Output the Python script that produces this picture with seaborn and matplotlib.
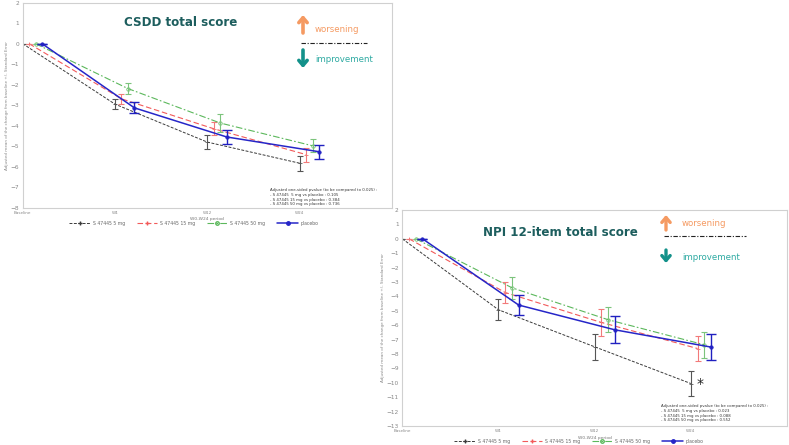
import matplotlib
matplotlib.use("Agg")
import matplotlib.pyplot as plt
import seaborn as sns
import pandas as pd
from matplotlib.lines import Line2D

visits = ["Baseline", "W4", "W12", "W24"]
groups = ["S 47445 5 mg", "S 47445 15 mg", "S 47445 50 mg", "placebo"]

# CSDD total score: adjusted mean change and standard error
csdd_5mg = [0, -2.95, -4.80, -5.83]
csdd_5mg_se = [0, 0.25, 0.34, 0.36]
csdd_15mg = [0, -2.69, -4.15, -5.41]
csdd_15mg_se = [0, 0.26, 0.32, 0.34]
csdd_50mg = [0, -2.19, -3.87, -4.98]
csdd_50mg_se = [0, 0.28, 0.43, 0.32]
csdd_placebo = [0, -3.13, -4.55, -5.27]
csdd_placebo_se = [0, 0.27, 0.32, 0.33]
csdd_pvalues = ["0.105", "0.384", "0.736"]

# NPI 12-item total score
npi_5mg = [0, -4.93, -7.50, -10.05]
npi_5mg_se = [0, 0.74, 0.90, 0.90]
npi_15mg = [0, -3.73, -5.81, -7.62]
npi_15mg_se = [0, 0.73, 0.93, 0.90]
npi_50mg = [0, -3.40, -5.62, -7.36]
npi_50mg_se = [0, 0.75, 0.88, 0.90]
npi_placebo = [0, -4.60, -6.32, -7.52]
npi_placebo_se = [0, 0.72, 0.93, 0.90]
npi_pvalues = ["0.023", "0.088", "0.552"]

sns.set_style("white")
plt.rcParams["font.family"] = ["DejaVu Sans"]
plt.rcParams["axes.unicode_minus"] = True

W, H = 789, 445
fig = plt.figure(figsize=(W / 100, H / 100), dpi=100)


def fx(x):
    return x / W


def fy(y):
    return 1 - y / H


line_col = ["#3a3a3a", "#f25a5a", "#5cb85c", "#2626c8"]
bar_col = ["#555555", "#f27a7a", "#7cc47c", "#2020c0"]
line_ls = [(0, (3, 1.5)), (0, (5, 2.5)), (0, (6, 2, 1.5, 2)), "-"]
line_lw = [0.7, 0.8, 0.8, 1.1]
markers = ["+", "+", "o", "o"]
caps = [2.2, 2.2, 2.2, 3.6]
offsets = [0, 0.07, 0.14, 0.21]

TITLE_C = "#1d5e5e"
ORANGE = "#f59a62"
TEAL = "#13918a"
TEAL_TXT = "#2eaaa2"


def panel(rect, means, ses, ymin, legend_xy):
    ax = fig.add_axes(rect)
    for i, (g, m, s) in enumerate(zip(groups, means, ses)):
        xs = [k + offsets[i] for k in range(len(visits))]
        df = pd.DataFrame({"x": xs, "y": m})
        sns.lineplot(data=df, x="x", y="y", ax=ax, color=line_col[i],
                     linestyle=line_ls[i], lw=line_lw[i], marker=markers[i],
                     ms=2.5 if markers[i] == "o" else 3,
                     mfc="none" if i == 2 else line_col[i],
                     mec=line_col[i], mew=0.5, sort=False, legend=False)
        ax.errorbar(xs, m, yerr=s, fmt="none", ecolor=bar_col[i],
                    elinewidth=0.8 if i < 3 else 1.0, capsize=caps[i],
                    capthick=0.8 if i < 3 else 1.0)
    ax.set_xlim(0, 4)
    ax.set_ylim(ymin, 2)
    ax.set_yticks(range(ymin, 3))
    ax.set_xticks(range(len(visits)))
    ax.set_xticklabels(visits, fontsize=3)
    ax.tick_params(axis="y", labelsize=4.2, colors="#888888", length=1.5,
                   width=0.4, pad=1)
    ax.tick_params(axis="x", colors="#888888", length=1.5, width=0.4, pad=1)
    for sp in ax.spines.values():
        sp.set_color("#d0d0d0")
        sp.set_linewidth(0.8)
    ax.set_xlabel("W0-W24 period", fontsize=3.2, color="#777777", labelpad=1.5)
    ax.set_ylabel("Adjusted mean of the change from baseline +/- Standard Error",
                  fontsize=3, color="#888888", labelpad=1)

    handles = []
    for i, g in enumerate(groups):
        handles.append(Line2D([], [], color=line_col[i], ls=line_ls[i],
                              lw=line_lw[i], marker=markers[i], ms=2.5,
                              mfc="none" if i == 2 else line_col[i],
                              mec=line_col[i], markevery=[1, 2, 3], label=g))
    fig.legend(handles=handles, loc="center", ncol=4, frameon=False,
               fontsize=3.3, handlelength=4.5, columnspacing=2.6,
               handletextpad=0.6, labelcolor="#666666",
               bbox_to_anchor=(fx(legend_xy[0]), fy(legend_xy[1])))
    return ax


ax1 = panel([fx(22.7), fy(207.7), fx(392) - fx(22.7), fy(2.7) - fy(207.7)],
            [csdd_5mg, csdd_15mg, csdd_50mg, csdd_placebo],
            [csdd_5mg_se, csdd_15mg_se, csdd_50mg_se, csdd_placebo_se],
            -8, (194, 223))
ax2 = panel([fx(402.3), fy(426), fx(787) - fx(402.3), fy(210) - fy(426)],
            [npi_5mg, npi_15mg, npi_50mg, npi_placebo],
            [npi_5mg_se, npi_15mg_se, npi_50mg_se, npi_placebo_se],
            -13, (579, 441))

# transparent overlay in image pixel coordinates for the annotations
ov = fig.add_axes([0, 0, 1, 1])
ov.set_xlim(0, W)
ov.set_ylim(H, 0)
ov.axis("off")
ov.patch.set_alpha(0)

ov.text(181, 22, "CSDD total score", fontsize=8.6, fontweight="bold",
        color=TITLE_C, ha="center", va="center")
ov.text(560, 232, "NPI 12-item total score", fontsize=8.6,
        fontweight="bold", color=TITLE_C, ha="center", va="center")


def arrow(x, y0, y1, color, lw):
    ov.annotate("", xy=(x, y1), xytext=(x, y0),
                arrowprops=dict(arrowstyle="->,head_length=0.35,head_width=0.3",
                                lw=lw, color=color, shrinkA=0, shrinkB=0))


def legend_box(x_arrow, up, y_line, down, x_line_end, x_text, y_wtxt, y_itxt, lw):
    arrow(x_arrow, up[1], up[0], ORANGE, lw)
    arrow(x_arrow, down[0], down[1], TEAL, lw)
    ov.text(x_text, y_wtxt, "worsening", fontsize=6.2, color=ORANGE,
            va="center")
    ov.text(x_text, y_itxt, "improvement", fontsize=6.2, color=TEAL_TXT,
            va="center")
    ov.plot([x_arrow - 2, x_line_end], [y_line, y_line], color="#222222",
            lw=0.8, ls=(0, (4, 1.5, 1, 1.5)))


legend_box(303, (15, 33), 43, (50, 68), 367, 315, 30, 59, 2.6)
legend_box(666, (215, 230), 236, (250, 263), 746, 682, 224, 257, 2.4)

# p-value notes
note = "Adjusted one-sided pvalue (to be compared to 0.025) :\n" \
       "- S 47445  5 mg vs placebo : {}\n" \
       "- S 47445 15 mg vs placebo : {}\n" \
       "- S 47445 50 mg vs placebo : {}"
ov.text(270, 188, note.format(*csdd_pvalues), fontsize=2.8,
        color="#333333", va="top", linespacing=1.25)
ov.text(661, 404, note.format(*npi_pvalues), fontsize=2.8,
        color="#333333", va="top", linespacing=1.25)

ov.text(700, 384, "*", fontsize=10, color="#222222", ha="center", va="center")

fig.savefig("out.png", dpi=100)
